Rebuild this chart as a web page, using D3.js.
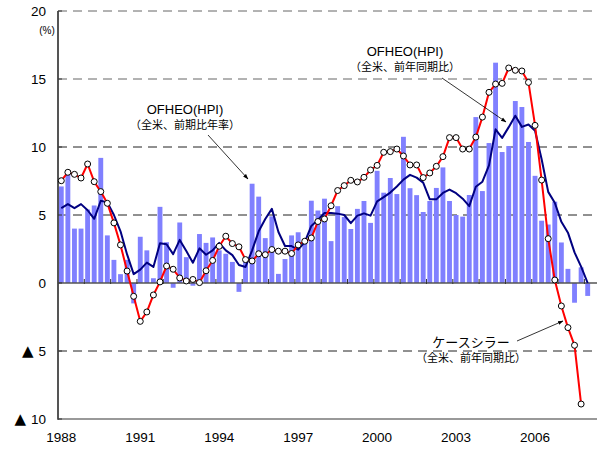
<!DOCTYPE html>
<html><head><meta charset="utf-8">
<script src="https://cdn.jsdelivr.net/npm/d3@7"></script>
<style>body{margin:0;background:#fff}svg{display:block}</style>
</head><body><svg id="c" width="597" height="450"></svg>
<script>
// Quarterly categories 1988Q1 .. 2008Q1
const quarters = [];
for (let y = 1988; y <= 2008; y++) for (let q = 1; q <= 4; q++) if (!(y === 2008 && q > 1)) quarters.push(y + "Q" + q);

// OFHEO HPI, quarter-on-quarter annualised (bars)
const ofheoQoQ = [
  7.1, 8.3, 4.0, 4.0, 5.4, 5.7, 9.2, 3.5, 1.7, 0.65,
  1.7, -1.5, 3.4, 2.4, 0.35, 5.6, 3.0, -0.35, 4.45, 1.9,
  -0.2, 3.6, 2.95, 3.35, 2.4, 2.15, 1.55, -0.65, 1.8, 7.3,
  6.35, 3.3, 4.9, 0.67, 1.76, 3.5, 3.73, 3.2, 6.05, 5.33,
  6.2, 3.08, 5.65, 4.85, 3.97, 5.45, 6.03, 4.42, 8.25, 6.64,
  7.72, 6.54, 10.75, 6.97, 6.46, 5.22, 6.03, 6.99, 8.5, 6.03,
  5.0, 4.88, 6.47, 12.2, 6.76, 10.29, 16.2, 9.63, 10.07, 13.38,
  12.94, 10.37, 7.88, 4.58, 4.3, 5.98, 2.98, 1.04, -1.45, 1.15,
  -0.95
];
// OFHEO HPI, year-on-year (navy line)
const ofheoYoY = [
  5.5, 5.8, 5.5, 5.8, 5.35, 4.72, 6.05, 5.93, 5.0, 3.8,
  2.1, 0.65, 0.98, 1.5, 1.18, 2.92, 2.85, 2.12, 3.17, 2.35,
  1.49, 2.55, 2.08, 2.4, 2.95, 2.4, 2.05, 1.32, 1.18, 2.4,
  3.8, 4.7, 5.45, 3.75, 2.72, 2.72, 2.45, 3.0, 4.2, 4.63,
  5.15, 5.15, 5.1, 5.0, 4.4, 4.95, 5.12, 4.95, 6.0, 6.32,
  6.65, 7.1, 7.6, 7.95, 7.75, 7.38, 6.15, 6.15, 6.62, 6.87,
  6.6, 6.2, 5.65, 7.08, 7.45, 8.65, 11.3, 10.67, 11.46, 12.3,
  11.48, 11.65, 11.2, 9.1, 6.7, 5.9, 4.5, 3.7, 2.25, 1.2,
  0.0
];
// Case-Shiller, year-on-year (red line with markers), 1988Q1 .. 2007Q4
const caseShiller = [
  7.52, 8.14, 7.99, 7.72, 8.75, 7.45, 6.72, 5.86, 4.42, 2.8,
  0.88, -0.98, -2.82, -2.13, -0.88, 0.08, 1.25, 1.01, 0.37, 0.15,
  0.26, 0.03, 0.9, 1.66, 2.7, 3.44, 2.9, 2.66, 1.72, 1.62,
  2.15, 2.08, 2.46, 2.34, 2.34, 2.17, 2.8, 3.07, 3.31, 4.52,
  4.71, 5.68, 6.8, 7.16, 7.55, 7.43, 7.77, 8.31, 8.65, 9.61,
  9.66, 9.85, 9.34, 8.68, 8.68, 7.75, 8.09, 8.58, 9.29, 10.69,
  10.69, 9.85, 9.85, 10.73, 12.2, 14.02, 14.63, 14.68, 15.81, 15.64,
  15.59, 14.75, 11.59, 7.57, 3.26, 0.22, -1.69, -3.28, -4.58, -8.9
];
const xLabelYears = ["1988", "1991", "1994", "1997", "2000", "2003", "2006"];
const yTicks = [20, 15, 10, 5, 0, -5, -10];
const yTickLabels = ["20", "15", "10", "5", "0", "5", "10"];
const gridValues = [20, 15, 10, 5, -5];

const svg = d3.select("#c");
const L = 58, R = 597, T = 11, B = 419;
const step = 6.58;
const x = d3.scaleBand().domain(quarters).range([L, L + quarters.length * step])
  .paddingInner(0.26).paddingOuter(0.13);
const cx = q => x(q) + x.bandwidth() / 2;
const y = d3.scaleLinear().domain([-10, 20]).range([B, T]);
const latin = "'Liberation Sans', Arial, sans-serif";
const cjk = "'Liberation Sans', 'Noto Sans CJK JP', sans-serif";

// gridlines
svg.append("g").selectAll("line").data(gridValues).join("line")
  .attr("x1", L).attr("x2", R).attr("y1", d => y(d)).attr("y2", d => y(d))
  .attr("stroke", d => d >= 15 ? "#666" : "#222").attr("stroke-width", 1)
  .attr("stroke-dasharray", "9,6");

// bars
svg.append("g").selectAll("rect").data(ofheoQoQ).join("rect")
  .attr("x", (d, i) => x(quarters[i])).attr("width", x.bandwidth())
  .attr("y", d => y(Math.max(0, d))).attr("height", d => Math.abs(y(d) - y(0)))
  .attr("fill", "#8080FF");

// zero line and ticks
svg.append("line").attr("x1", L).attr("x2", R).attr("y1", y(0)).attr("y2", y(0))
  .attr("stroke", "#555").attr("stroke-width", 1.5);
const yearBounds = d3.range(0, quarters.length + 1, 4).map(i => L + i * step);
svg.append("g").selectAll("line").data(yearBounds).join("line")
  .attr("x1", d => d).attr("x2", d => d).attr("y1", y(0) - 4).attr("y2", y(0) + 1)
  .attr("stroke", "#333").attr("stroke-width", 1);

// bottom and left axis lines
svg.append("line").attr("x1", L).attr("x2", R).attr("y1", B).attr("y2", B)
  .attr("stroke", "#777").attr("stroke-width", 1.5);
svg.append("line").attr("x1", L).attr("x2", L).attr("y1", T).attr("y2", B + 0.75)
  .attr("stroke", "#555").attr("stroke-width", 2);
svg.append("g").selectAll("line").data(yTicks).join("line")
  .attr("x1", L).attr("x2", L + 4).attr("y1", d => y(d)).attr("y2", d => y(d))
  .attr("stroke", "#333").attr("stroke-width", 1);

// blue line
svg.append("path").datum(ofheoYoY)
  .attr("d", d3.line().x((d, i) => cx(quarters[i])).y(d => y(d)))
  .attr("fill", "none").attr("stroke", "#000080").attr("stroke-width", 2)
  .attr("stroke-linejoin", "round");

// red line with markers
svg.append("path").datum(caseShiller)
  .attr("d", d3.line().x((d, i) => cx(quarters[i])).y(d => y(d)))
  .attr("fill", "none").attr("stroke", "#FF0000").attr("stroke-width", 2)
  .attr("stroke-linejoin", "round");
svg.append("g").selectAll("circle").data(caseShiller).join("circle")
  .attr("cx", (d, i) => cx(quarters[i])).attr("cy", d => y(d)).attr("r", 3)
  .attr("fill", "#fff").attr("stroke", "#000").attr("stroke-width", 1);

// y labels (negative values carry a ▲ mark)
const yl = svg.append("g").selectAll("text").data(yTicks).join("text")
  .attr("x", 46).attr("y", d => y(d) + 5).attr("text-anchor", "end")
  .attr("font-family", latin).attr("font-size", 13.5).attr("fill", "#000");
yl.filter(d => d < 0).append("tspan").attr("font-family", "'DejaVu Sans', sans-serif")
  .attr("font-size", 15).text("▲");
yl.append("tspan").attr("dx", d => d < 0 ? 5 : 0).text((d, i) => yTickLabels[i]);
svg.append("text").attr("x", 47).attr("y", 34).attr("text-anchor", "middle")
  .attr("font-family", cjk).attr("font-size", 10).text("(%)");

// x labels
svg.append("g").selectAll("text").data(xLabelYears).join("text")
  .attr("x", d => cx(d + "Q1")).attr("y", 442).attr("text-anchor", "middle")
  .attr("font-family", latin).attr("font-size", 13.5).attr("fill", "#000").text(d => d);

// annotations
const defs = svg.append("defs");
defs.append("marker").attr("id", "ah").attr("viewBox", "0 0 10 10").attr("refX", 9).attr("refY", 5)
  .attr("markerWidth", 7).attr("markerHeight", 7).attr("orient", "auto")
  .append("path").attr("d", "M0,1.5 L10,5 L0,8.5 Z").attr("fill", "#000");

function note(cxp, y1, l1, l2) {
  svg.append("text").attr("x", cxp).attr("y", y1).attr("text-anchor", "middle")
    .attr("font-family", cjk).attr("font-size", 13).text(l1);
  svg.append("text").attr("x", cxp).attr("y", y1 + 15).attr("text-anchor", "middle")
    .attr("font-family", cjk).attr("font-size", 11).text(l2);
}
function arrow(x1, y1, x2, y2) {
  svg.append("line").attr("x1", x1).attr("y1", y1).attr("x2", x2).attr("y2", y2)
    .attr("stroke", "#000").attr("stroke-width", 0.8).attr("marker-end", "url(#ah)");
}
note(185, 114, "OFHEO(HPI)", "（全米、前期比年率）");
arrow(208, 135, 248, 179);
note(405, 56, "OFHEO(HPI)", "（全米、前年同期比）");
arrow(442, 78, 506, 122);
note(471, 347, "ケースシラー", "（全米、前年同期比）");
arrow(517, 341, 563, 321);
</script></body></html>
